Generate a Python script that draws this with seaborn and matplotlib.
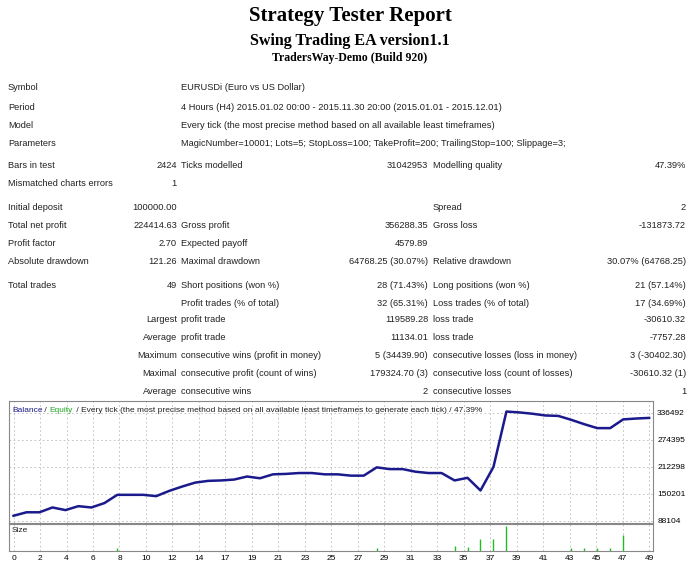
import matplotlib
matplotlib.use("Agg")
import matplotlib.pyplot as plt
import seaborn as sns
import numpy as np
import pandas as pd

balance = [100000,108000,108000,119000,113000,122000,119000,129000,148000,148000,
           148000,145000,157000,167000,176000,180000,181000,183000,190000,186000,
           195000,196000,198000,198000,195000,195000,192000,192000,211000,207000,
           207000,201000,198000,198000,181000,187000,158000,212000,339000,337000,
           334000,330000,329000,320000,310000,301000,301000,321000,323000,324414]
size_trades = [8, 28, 34, 35, 36, 37, 38, 43, 44, 45, 46, 47]
size_values = [8, 8, 15, 12, 33, 32, 70, 7, 7, 7, 7, 45]
x_tick_labels = ["0","2","4","6","8","10","12","14","17","19","21","23","25","27",
                 "29","31","33","35","37","39","41","43","45","47","49"]
y_ticks = [88104, 150201, 212298, 274395, 336492]

rows = [
    (88, [(8, "Symbol", "left"), (181, "EURUSDi (Euro vs US Dollar)", "left")]),
    (107, [(8, "Period", "left"), (181, "4 Hours (H4) 2015.01.02 00:00 - 2015.11.30 20:00 (2015.01.01 - 2015.12.01)", "left")]),
    (125, [(8, "Model", "left"), (181, "Every tick (the most precise method based on all available least timeframes)", "left")]),
    (143, [(8, "Parameters", "left"), (181, "MagicNumber=10001; Lots=5; StopLoss=100; TakeProfit=200; TrailingStop=100; Slippage=3;", "left")]),
    (165, [(8, "Bars in test", "left"), (177, "2424", "right"), (181, "Ticks modelled", "left"), (428, "31042953", "right"), (433, "Modelling quality", "left"), (686, "47.39%", "right")]),
    (183, [(8, "Mismatched charts errors", "left"), (177, "1", "right")]),
    (208, [(8, "Initial deposit", "left"), (177, "100000.00", "right"), (433, "Spread", "left"), (686, "2", "right")]),
    (226, [(8, "Total net profit", "left"), (177, "224414.63", "right"), (181, "Gross profit", "left"), (428, "356288.35", "right"), (433, "Gross loss", "left"), (686, "-131873.72", "right")]),
    (243, [(8, "Profit factor", "left"), (177, "2.70", "right"), (181, "Expected payoff", "left"), (428, "4579.89", "right")]),
    (261, [(8, "Absolute drawdown", "left"), (177, "121.26", "right"), (181, "Maximal drawdown", "left"), (428, "64768.25 (30.07%)", "right"), (433, "Relative drawdown", "left"), (686, "30.07% (64768.25)", "right")]),
    (285, [(8, "Total trades", "left"), (177, "49", "right"), (181, "Short positions (won %)", "left"), (428, "28 (71.43%)", "right"), (433, "Long positions (won %)", "left"), (686, "21 (57.14%)", "right")]),
    (303, [(181, "Profit trades (% of total)", "left"), (428, "32 (65.31%)", "right"), (433, "Loss trades (% of total)", "left"), (686, "17 (34.69%)", "right")]),
    (320, [(177, "Largest", "right"), (181, "profit trade", "left"), (428, "119589.28", "right"), (433, "loss trade", "left"), (686, "-30610.32", "right")]),
    (338, [(177, "Average", "right"), (181, "profit trade", "left"), (428, "11134.01", "right"), (433, "loss trade", "left"), (686, "-7757.28", "right")]),
    (355, [(177, "Maximum", "right"), (181, "consecutive wins (profit in money)", "left"), (428, "5 (34439.90)", "right"), (433, "consecutive losses (loss in money)", "left"), (686, "3 (-30402.30)", "right")]),
    (373, [(177, "Maximal", "right"), (181, "consecutive profit (count of wins)", "left"), (428, "179324.70 (3)", "right"), (433, "consecutive loss (count of losses)", "left"), (686, "-30610.32 (1)", "right")]),
    (391, [(177, "Average", "right"), (181, "consecutive wins", "left"), (428, "2", "right"), (433, "consecutive losses", "left"), (686, "1", "right")]),
]

W, H = 700, 569
fig = plt.figure(figsize=(7, 5.69), dpi=100)
fig.patch.set_facecolor("white")
sans = "Liberation Sans"
fs = 6.7

fig.text(0.5, 1 - 16 / H, "Strategy Tester Report", ha="center", va="center",
         fontsize=15, fontweight="bold", family="Liberation Serif")
fig.text(0.5, 1 - 41 / H, "Swing Trading EA version1.1", ha="center", va="center",
         fontsize=11.5, fontweight="bold", family="Liberation Serif")
fig.text(0.5, 1 - 58 / H, "TradersWay-Demo (Build 920)", ha="center", va="center",
         fontsize=8.5, fontweight="bold", family="Liberation Serif")
for y, items in rows:
    for x, t, ha in items:
        fig.text(x / W, 1 - y / H, t, ha=ha, va="center", fontsize=fs, family=sans, color="#222222")

ax = fig.add_axes([9 / W, 1 - 523 / H, 644 / W, 122 / H])
ax2 = fig.add_axes([9 / W, 1 - 551 / H, 644 / W, 27 / H])

df = pd.DataFrame({"trade": np.arange(len(balance)), "balance": balance})
sns.lineplot(data=df, x="trade", y="balance", ax=ax, color="#1a1a8c", linewidth=1.8)
xpos = np.linspace(0, len(balance) - 1, len(x_tick_labels))
xlim = (-0.35, 49.3)
for a in (ax, ax2):
    a.set_xlim(*xlim)
    a.set_xticks(xpos)
    for s in a.spines.values():
        s.set_color("#888888"); s.set_linewidth(0.8)
    a.grid(True, axis="x", linestyle=(0, (2, 3)), color="#bbbbbb", linewidth=0.6)
    a.set_xlabel(""); a.set_ylabel("")
    a.tick_params(length=0)
ax.set_ylim(83400, 363200)
ax.set_yticks(y_ticks)
ax.grid(True, axis="y", linestyle=(0, (2, 3)), color="#bbbbbb", linewidth=0.6)
ax.yaxis.tick_right()
ax.set_yticklabels([str(v) for v in y_ticks], fontsize=6, family=sans)
ax.tick_params(axis="y", pad=3)
ax.set_xticklabels([])

# legend-like header, placed piece by piece
x0 = 12
pieces = [("Balance", "#1a1a8c", 30), (" / ", "#222222", 7), ("Equity", "#22aa22", 25),
          (" / Every tick (the most precise method based on all available least timeframes to generate each tick) / 47.39%", "#222222", 0)]
for t, c, w in pieces:
    fig.text(x0 / W, 1 - 410 / H, t, fontsize=6, color=c, va="center", family=sans)
    x0 += w

sdf = pd.DataFrame({"trade": size_trades, "size": size_values})
ax2.vlines(sdf["trade"], 0, sdf["size"], color="#22bb22", linewidth=1)
ax2.set_ylim(0, 75)
ax2.set_yticks([])
ax2.set_xticklabels(x_tick_labels, fontsize=6, family=sans)
ax2.tick_params(axis="x", pad=3)
ax2.text(0.004, 0.9, "Size", transform=ax2.transAxes, fontsize=6, color="#222222", va="top", family=sans)

fig.savefig("out.png", dpi=100)
